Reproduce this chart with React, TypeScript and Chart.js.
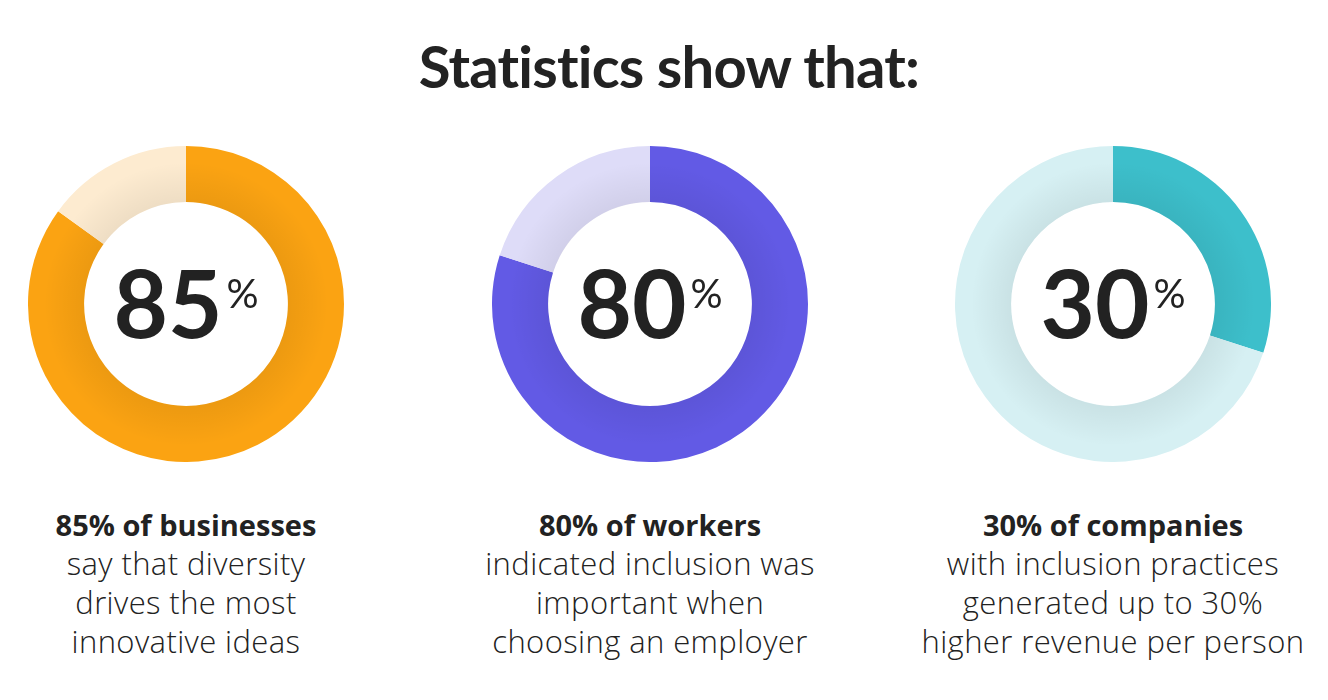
import React, { useEffect, useRef } from "react";
import { Chart, registerables } from "chart.js";

Chart.register(...registerables);

const titleText = "Statistics show that:";
const values = [85, 80, 30];
const remainders = [15, 20, 70];
const mainColors = ["#FBA312", "#625AE5", "#3DBFCB"];
const lightColors = ["#FDEBD0", "#DEDCF8", "#D6F0F3"];
const headlines = ["85% of businesses", "80% of workers", "30% of companies"];
const descriptions = [
  ["say that diversity", "drives the most", "innovative ideas"],
  ["indicated inclusion was", "important when", "choosing an employer"],
  ["with inclusion practices", "generated up to 30%", "higher revenue per person"],
];
const centersX = [186, 650, 1113];

const FONT = "Lato, 'Open Sans', sans-serif";
const CAPTION_FONT = "'Open Sans', Lato, sans-serif";
const SIZE = 316;

const centerPlugin = {
  id: "centerText",
  afterDatasetsDraw(chart: any, _args: any, opts: any) {
    const { ctx } = chart;
    const meta = chart.getDatasetMeta(0);
    const arc = meta.data[0];
    if (!arc) return;
    const cx = arc.x;
    const cy = arc.y;
    const inner = arc.innerRadius;
    ctx.save();
    const g = ctx.createRadialGradient(cx, cy, inner, cx, cy, inner + 40);
    g.addColorStop(0, "rgba(0,0,0,0.06)");
    g.addColorStop(1, "rgba(0,0,0,0)");
    ctx.beginPath();
    ctx.arc(cx, cy, inner + 40, 0, Math.PI * 2);
    ctx.arc(cx, cy, inner, 0, Math.PI * 2, true);
    ctx.fillStyle = g;
    ctx.fill();
    ctx.restore();

    ctx.save();
    const num = String(opts.value);
    ctx.font = `bold 94px ${FONT}`;
    const nw = ctx.measureText(num).width;
    ctx.font = `normal 40px ${FONT}`;
    const pw = ctx.measureText("%").width;
    const gap = 4;
    const total = nw + gap + pw;
    const x0 = cx - total / 2;
    ctx.fillStyle = "#222222";
    ctx.textAlign = "left";
    ctx.textBaseline = "alphabetic";
    ctx.font = `bold 94px ${FONT}`;
    ctx.fillText(num, x0, cy + 34);
    ctx.font = `normal 40px ${FONT}`;
    ctx.fillText("%", x0 + nw + gap, cy + 4);
    ctx.restore();
  },
};

function Donut({ index }: { index: number }) {
  const ref = useRef<HTMLCanvasElement>(null);
  useEffect(() => {
    if (!ref.current) return;
    const chart = new Chart(ref.current, {
      type: "doughnut",
      data: {
        labels: ["Value", "Rest"],
        datasets: [
          {
            data: [values[index], remainders[index]],
            backgroundColor: [mainColors[index], lightColors[index]],
            borderWidth: 0,
          },
        ],
      },
      options: {
        responsive: false,
        animation: false,
        cutout: "64.5%",
        layout: { padding: 0 },
        plugins: {
          legend: { display: false },
          tooltip: { enabled: false },
          centerText: { value: values[index] },
        } as any,
      },
      plugins: [centerPlugin],
    });
    return () => chart.destroy();
  }, [index]);
  return (
    <canvas
      ref={ref}
      width={SIZE}
      height={SIZE}
      style={{
        position: "absolute",
        left: centersX[index] - SIZE / 2,
        top: 304 - SIZE / 2,
        width: SIZE,
        height: SIZE,
      }}
    />
  );
}

export default function App() {
  return (
    <div
      style={{
        position: "absolute",
        left: 0,
        top: 0,
        width: 1328,
        height: 700,
        background: "#ffffff",
        fontFamily: FONT,
        color: "#222222",
        overflow: "hidden",
      }}
    >
      <div
        style={{
          position: "absolute",
          left: 5,
          width: 1328,
          top: 37,
          textAlign: "center",
          fontSize: 58,
          fontWeight: 700,
          lineHeight: "58px",
          letterSpacing: -0.8,
          fontVariantLigatures: "none",
        }}
      >
        {titleText}
      </div>
      {values.map((_, i) => (
        <Donut key={i} index={i} />
      ))}
      {values.map((_, i) => (
        <div
          key={"c" + i}
          style={{
            position: "absolute",
            left: centersX[i] - 220,
            width: 440,
            top: 505,
            textAlign: "center",
            fontFamily: CAPTION_FONT,
            lineHeight: "39px",
            fontVariantLigatures: "none",
          }}
        >
          <div style={{ fontWeight: 700, fontSize: 29 }}>{headlines[i]}</div>
          {descriptions[i].map((d, j) => (
            <div key={j} style={{ fontWeight: 300, fontSize: 31, letterSpacing: 0.4, whiteSpace: "nowrap" }}>
              {d}
            </div>
          ))}
        </div>
      ))}
    </div>
  );
}
